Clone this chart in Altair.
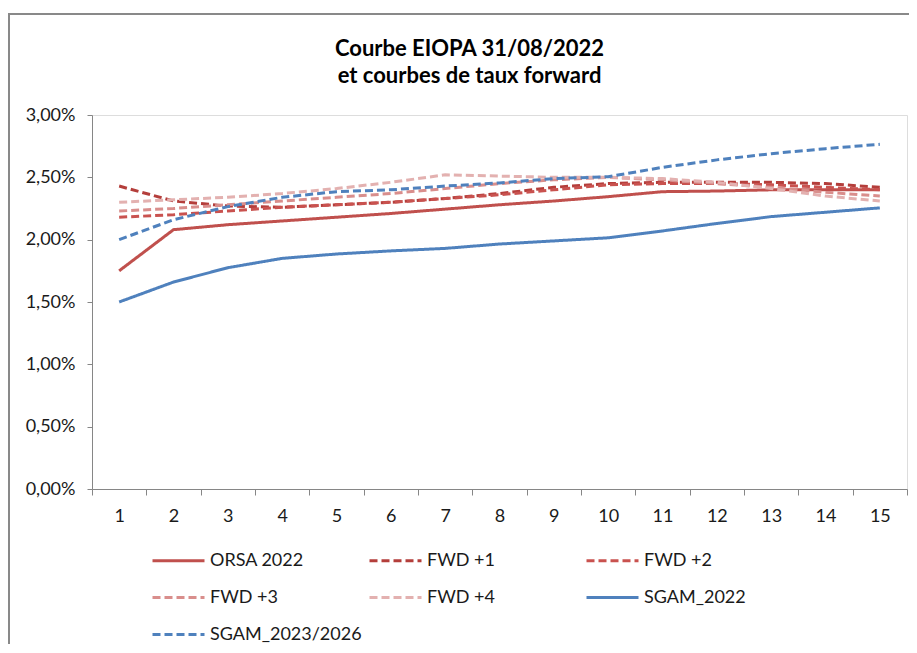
import altair as alt
import pandas as pd

maturities = list(range(1, 16))
series_names = ["ORSA 2022", "FWD +1", "FWD +2", "FWD +3", "FWD +4", "SGAM_2022", "SGAM_2023/2026"]

orsa_2022 = [1.75, 2.08, 2.12, 2.15, 2.18, 2.21, 2.245, 2.28, 2.31, 2.345, 2.385, 2.39, 2.40, 2.40, 2.40]
fwd_1 = [2.43, 2.31, 2.27, 2.26, 2.28, 2.30, 2.33, 2.37, 2.42, 2.45, 2.46, 2.46, 2.46, 2.45, 2.42]
fwd_2 = [2.18, 2.20, 2.23, 2.26, 2.28, 2.30, 2.33, 2.36, 2.40, 2.44, 2.45, 2.45, 2.44, 2.42, 2.40]
fwd_3 = [2.23, 2.25, 2.28, 2.31, 2.34, 2.37, 2.41, 2.45, 2.48, 2.50, 2.48, 2.45, 2.42, 2.38, 2.35]
fwd_4 = [2.30, 2.32, 2.34, 2.37, 2.41, 2.46, 2.52, 2.51, 2.50, 2.50, 2.49, 2.46, 2.41, 2.35, 2.31]
sgam_2022 = [1.50, 1.66, 1.775, 1.85, 1.885, 1.91, 1.93, 1.965, 1.99, 2.015, 2.07, 2.13, 2.185, 2.22, 2.255]
sgam_2023_2026 = [2.00, 2.16, 2.265, 2.34, 2.385, 2.40, 2.43, 2.455, 2.49, 2.505, 2.58, 2.64, 2.69, 2.73, 2.765]

y_ticks = [0, 0.005, 0.01, 0.015, 0.02, 0.025, 0.03]

colors = ["#C0504D", "#B43E3B", "#C9524F", "#D98E8C", "#E3B1B0", "#4F81BD", "#4F81BD"]
dashes = [[1, 0], [8, 4], [8, 4], [8, 4], [8, 4], [1, 0], [8, 4]]

all_values = [orsa_2022, fwd_1, fwd_2, fwd_3, fwd_4, sgam_2022, sgam_2023_2026]
rows = []
for order, (name, vals) in enumerate(zip(series_names, all_values)):
    for m, v in zip(maturities, vals):
        rows.append({"maturity": m, "rate": v / 100.0, "series": name, "order": order})
df = pd.DataFrame(rows)

FONT = "Lato"

legend = alt.Legend(
    orient="none", legendX=59, legendY=418, columns=3, direction="horizontal", title=None,
    symbolType="stroke", symbolSize=2704, symbolStrokeWidth=3,
    labelFontSize=18, labelFont=FONT, labelColor="#1a1a1a", labelOffset=4,
    columnPadding=1, rowPadding=0, gridAlign="all", padding=0, labelLimit=400,
)

lines = alt.Chart(df).mark_line(strokeWidth=3).encode(
    x=alt.X("maturity:O", bandPosition=0.5,
            scale=alt.Scale(type="band", paddingInner=0, paddingOuter=0),
            axis=alt.Axis(title=None, labelAngle=0, tickBand="extent", tickSize=6,
                          labelPadding=12, labelFontSize=18, labelFont=FONT,
                          labelColor="#1a1a1a", domainColor="#868686", tickColor="#868686",
                          grid=False)),
    y=alt.Y("rate:Q", scale=alt.Scale(domain=[0, 0.03], nice=False),
            axis=alt.Axis(title=None, values=y_ticks, tickSize=5, labelPadding=12,
                          labelExpr="replace(format(datum.value, '.2%'), '.', ',')",
                          labelFontSize=18, labelFont=FONT, labelColor="#1a1a1a",
                          domainColor="#868686", tickColor="#868686", grid=False)),
    color=alt.Color("series:N", scale=alt.Scale(domain=series_names, range=colors), legend=legend),
    strokeDash=alt.StrokeDash("series:N", scale=alt.Scale(domain=series_names, range=dashes), legend=legend),
    order="order:Q",
    detail="series:N",
)

frame = alt.Chart(df).mark_rect(fillOpacity=0, stroke="#898989", strokeWidth=2).encode(
    x=alt.value(-83), x2=alt.value(900), y=alt.value(-101), y2=alt.value(700)
)

chart = alt.layer(frame, lines).properties(
    width=815, height=374,
    title=alt.TitleParams(
        ["Courbe EIOPA 31/08/2022", "et courbes de taux forward"],
        font=FONT, fontSize=22, fontWeight="bold", color="#000000",
        anchor="middle", frame="group", dx=-30, offset=0, dy=97, lineHeight=27, baseline="bottom",
    ),
    autosize=alt.AutoSizeParams(type="none"),
    padding={"left": 84, "top": 107, "right": 2, "bottom": 155},
).configure_view(stroke=None).configure(background="white")

chart.save("out.html", embed_options={"renderer": "svg", "actions": False})
